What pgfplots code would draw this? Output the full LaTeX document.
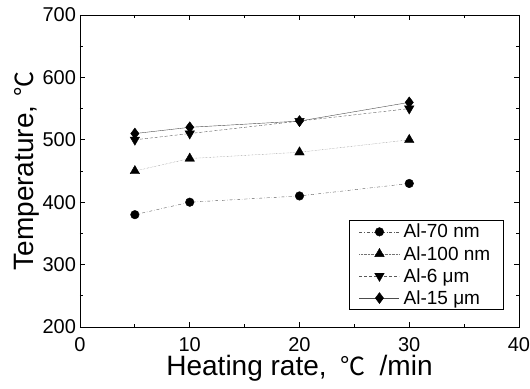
\documentclass[border=0pt]{standalone}
\usepackage{fontspec}
\setmainfont{Liberation Sans}
\newfontfamily\cjk{Noto Sans CJK SC}
\usepackage{pgfplots}
\pgfplotsset{compat=1.18}
\begin{document}
\begin{tikzpicture}[x=1pt,y=1pt]
\begin{axis}[
  scale only axis,
  width=439pt, height=312pt,
  xmin=0, xmax=40, ymin=200, ymax=700,
  xtick={0,10,20,30,40}, ytick={200,300,400,500,600,700},
  minor x tick num=1, minor y tick num=1,
  tick align=inside,
  major tick length=5pt, minor tick length=3pt,
  every tick/.style={black, line width=0.8pt},
  axis line style={line width=0.9pt},
  /pgf/number format/assume math mode=true,
  ticklabel style={font=\fontsize{20}{20}\selectfont},
  xticklabel style={yshift=-7pt},
  yticklabel style={xshift=-0.5pt},
  xlabel={Heating rate,\kern14pt{\cjk\fontsize{25}{25}\selectfont ℃}\kern14pt/min},
  ylabel={Temperature,\kern9pt{\cjk\fontsize{25}{25}\selectfont ℃}},
  every axis x label/.style={at={(axis description cs:0.5,-0.157)}, anchor=base, font=\fontsize{28}{28}\selectfont},
  every axis y label/.style={at={(axis description cs:-0.106,0.5)}, anchor=base, rotate=90, font=\fontsize{28}{28}\selectfont},
  legend style={at={(0.966,0.0545)}, anchor=south east, draw=black, line width=0.6pt,
    font=\fontsize{19}{20}\selectfont, row sep=2.8pt, inner xsep=9.5pt, inner ysep=2pt,
    nodes={inner xsep=4pt}},
  legend cell align=left,
  legend image code/.code={\draw[#1] (0pt,0pt) -- (40pt,0pt); \draw[#1, only marks] plot coordinates {(20pt,0pt)};},
]
\coordinate (sw) at (rel axis cs:0,0);
\coordinate (ne) at (rel axis cs:1,1);
\addplot[black!65, thin, dash dot, mark=*, mark size=4.3pt, mark options={solid, black}]
  coordinates {(5,380) (10,400) (20,410) (30,430)};
\addlegendentry{Al-70 nm}
\addplot[black!55, thin, densely dotted, mark=triangle*, mark size=5.5pt, mark options={solid, black}]
  coordinates {(5,450) (10,470) (20,480) (30,500)};
\addlegendentry{Al-100 nm}
\addplot[black!65, thin, densely dashed, mark=triangle*, mark size=5.5pt, mark options={solid, black, rotate=180}]
  coordinates {(5,500) (10,510) (20,530) (30,550)};
\addlegendentry{Al-6 μm}
\addplot[black!70, thin, solid, mark=diamond*, mark size=5.5pt, mark options={solid, black}]
  coordinates {(5,510) (10,520) (20,530) (30,560)};
\addlegendentry{Al-15 μm}
\end{axis}
\pgfresetboundingbox
\path ([shift={(-80pt,-62pt)}]sw) rectangle ([shift={(11pt,15pt)}]ne);
\end{tikzpicture}
\end{document}
